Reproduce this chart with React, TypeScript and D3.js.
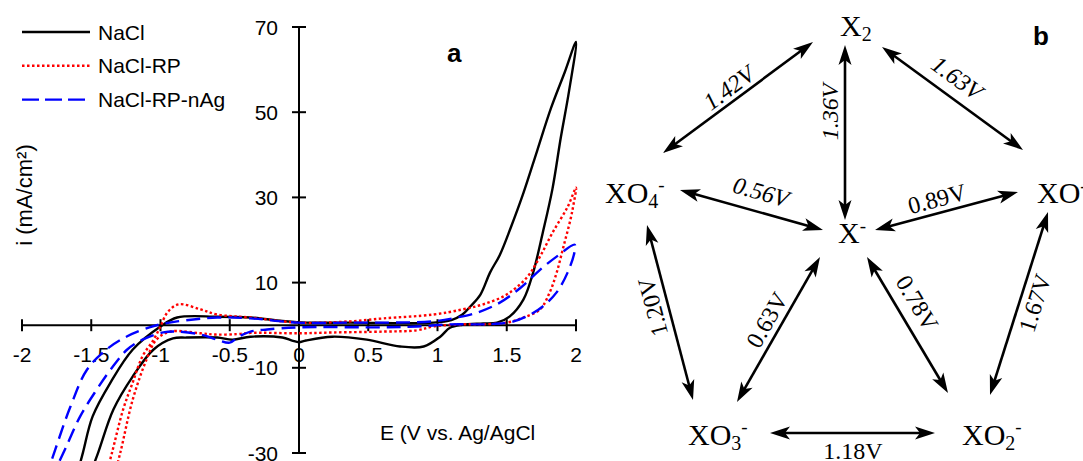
import React from "react";
import * as d3 from "d3";

const W = 1083;
const H = 461;

// cyclic voltammograms, [E (V vs Ag/AgCl), i (mA/cm2)], forward branch then reverse branch
const nacl = [
  [-1.61, -36], [-1.56, -29.9], [-1.49, -21.4], [-1.36, -13.4], [-1.2, -5.7], [-1.0, -0.3],
  [-0.88, 1.8], [-0.59, 2.0], [-0.35, 1.8], [-0.12, 1.0], [0.05, 0.6], [0.37, 0.6], [0.97, 0.6],
  [1.1, 1.2], [1.18, 2.5], [1.24, 4.5], [1.31, 7.2], [1.38, 12.4], [1.45, 16.5], [1.53, 23],
  [1.62, 31], [1.72, 41], [1.82, 51], [1.92, 59.5], [2.0, 66.5],
  [1.95, 55], [1.89, 44], [1.83, 32], [1.76, 21.7], [1.69, 12.3], [1.62, 6.0], [1.52, 2.0],
  [1.43, 0.6], [1.33, 0.4], [1.18, 0.1], [1.09, -0.6], [1.02, -2.7], [0.9, -5.0], [0.73, -5.0],
  [0.49, -3.4], [0.24, -2.7], [0.05, -3.6], [0.0, -4.0], [-0.05, -3.6], [-0.12, -2.9],
  [-0.35, -2.7], [-0.48, -3.4], [-0.59, -2.9], [-0.81, -2.9], [-0.91, -3.1], [-1.05, -5.7],
  [-1.2, -12.0], [-1.34, -19.8], [-1.45, -29.9], [-1.52, -36],
];

const naclRP = [
  [-1.4, -36], [-1.35, -29.9], [-1.27, -19.8], [-1.2, -13.4], [-1.13, -7.3], [-1.05, -3.4],
  [-1.0, -0.3], [-0.95, 3.0], [-0.87, 4.9], [-0.71, 3.7], [-0.59, 2.5], [-0.35, 1.8], [0.0, 0.6],
  [0.37, 0.9], [0.61, 1.6], [0.97, 2.5], [1.18, 3.7], [1.33, 4.9], [1.5, 7.2], [1.65, 11.4],
  [1.74, 16.1], [1.83, 21.7], [1.94, 27.8], [2.0, 32.3],
  [1.98, 28], [1.96, 24.8], [1.91, 18.5], [1.86, 12.3], [1.81, 7.7], [1.74, 3.7], [1.62, 1.8],
  [1.5, 0.6], [1.31, 0.2], [1.18, 0.2], [0.97, -0.3], [0.85, -1.2], [0.61, -1.5], [0.25, -1.7],
  [0.0, -1.9], [-0.35, -1.8], [-0.45, -2.1], [-0.6, -2.2], [-0.71, -1.9], [-0.93, -1.5],
  [-1.03, -3.4], [-1.1, -8.0], [-1.2, -17.4], [-1.29, -29.9], [-1.34, -36],
];

const naclRPnAg = [
  [-1.83, -36], [-1.76, -29.2], [-1.65, -19.1], [-1.53, -10.4], [-1.39, -5.7], [-1.24, -2.6],
  [-1.08, -0.5], [-1.0, 0.2], [-0.88, 0.9], [-0.59, 1.8], [-0.35, 1.6], [-0.01, 0.6], [0.37, 0.6],
  [0.97, 0.9], [1.14, 1.8], [1.29, 3.0], [1.45, 5.3], [1.6, 8.8], [1.74, 13.0], [1.86, 16.1],
  [1.99, 18.9],
  [1.99, 17.3], [1.94, 12.4], [1.86, 7.7], [1.76, 4.4], [1.67, 2.5], [1.55, 0.9], [1.45, 0.4],
  [1.33, 0.2], [1.09, 0.2], [0.85, -0.3], [0.61, -0.5], [0.0, -0.5], [-0.23, -1.0], [-0.35, -1.5],
  [-0.43, -2.6], [-0.5, -4.1], [-0.59, -3.4], [-0.71, -2.2], [-0.88, -1.5], [-0.98, -1.7],
  [-1.13, -3.4], [-1.24, -5.7], [-1.36, -10.4], [-1.46, -15.1], [-1.58, -21.4], [-1.69, -29.2],
  [-1.79, -36],
];

const seriesNames = ["NaCl", "NaCl-RP", "NaCl-RP-nAg"];
const seriesData = [nacl, naclRP, naclRPnAg];
const xTicks = [-2, -1.5, -1, -0.5, 0, 0.5, 1, 1.5, 2];
const yTicks = [70, 50, 30, 10, -10, -30];

// scheme b: species and redox couples
const species = [
  { id: "X2", base: "X", sub: "2", sup: "" },
  { id: "XO4", base: "XO", sub: "4", sup: "-" },
  { id: "XO", base: "XO", sub: "", sup: "-" },
  { id: "X", base: "X", sub: "", sup: "-" },
  { id: "XO3", base: "XO", sub: "3", sup: "-" },
  { id: "XO2", base: "XO", sub: "2", sup: "-" },
];
const couples = [
  { a: "X2", b: "XO4", v: "1.42V" },
  { a: "X2", b: "X", v: "1.36V" },
  { a: "X2", b: "XO", v: "1.63V" },
  { a: "XO4", b: "X", v: "0.56V" },
  { a: "X", b: "XO", v: "0.89V" },
  { a: "XO4", b: "XO3", v: "1.20V" },
  { a: "X", b: "XO3", v: "0.63V" },
  { a: "X", b: "XO2", v: "0.78V" },
  { a: "XO", b: "XO2", v: "1.67V" },
  { a: "XO3", b: "XO2", v: "1.18V" },
];

// layout of the scheme (text anchor = left x, baseline y)
const nodePos: Record<string, number[]> = {
  X2: [840, 36], XO4: [605, 203], XO: [1037, 203], X: [838, 243], XO3: [688, 445], XO2: [962, 445],
};
// arrow tips and label placement [cx, cy, angle], in couples order
const arrowTips = [
  [813, 42, 663, 153], [845, 45, 845, 220], [882, 47, 1023, 150], [680, 190, 823, 230],
  [875, 230, 1018, 192], [647, 225, 693, 400], [820, 257, 737, 402], [867, 257, 948, 393],
  [1048, 212, 990, 395], [770, 433, 935, 433],
];
const labelPos = [
  [729, 88, -36.5], [830, 112, -90], [957, 78, 36], [761, 192, 15.6], [937, 199, -14.9],
  [653, 307, -104.7], [767, 320, -60.2], [917, 303, 59.2], [1035, 303, -72.4], [853, 451, 0],
];
const italicLabels = ["1.42V", "1.36V", "1.63V", "0.56V"];

const sans = "'Liberation Sans', Arial, sans-serif";
const serif = "'Liberation Serif', 'Times New Roman', serif";
const styles = [
  { stroke: "#000", dash: "none" },
  { stroke: "#ff0000", dash: "2.5 2.5" },
  { stroke: "#0000ff", dash: "14 7" },
];

function Arrow({ t }: { t: number[] }) {
  const [x1, y1, x2, y2] = t;
  const a = Math.atan2(y2 - y1, x2 - x1);
  const deg = (a * 180) / Math.PI;
  const ux = Math.cos(a), uy = Math.sin(a);
  const inset = 14;
  const head = "M0,0 L-20,-6.5 L-15,0 L-20,6.5 Z";
  return (
    <g>
      <line x1={x1 + ux * inset} y1={y1 + uy * inset} x2={x2 - ux * inset} y2={y2 - uy * inset}
        stroke="#000" strokeWidth={2.6} />
      <path d={head} transform={`translate(${x2},${y2}) rotate(${deg})`} fill="#000" />
      <path d={head} transform={`translate(${x1},${y1}) rotate(${deg + 180})`} fill="#000" />
    </g>
  );
}

export default function App() {
  const x = d3.scaleLinear().domain([-2, 2]).range([22, 576]);
  const y = d3.scaleLinear().domain([-30, 70]).range([453, 27]);
  const line = d3.line<number[]>()
    .x((d) => x(d[0]))
    .y((d) => y(d[1]))
    .curve(d3.curveCatmullRom.alpha(0.5));
  const x0 = x(0);
  const y0 = y(0);

  return (
    <svg width={W} height={H} style={{ position: "absolute", left: 0, top: 0, background: "#fff" }}>
      {/* axes */}
      <g stroke="#000" strokeWidth={2}>
        <line x1={x(-2)} x2={x(2)} y1={y0} y2={y0} />
        <line x1={x0} x2={x0} y1={y(70)} y2={y(-30)} />
        {xTicks.map((t) => (
          <line key={"xt" + t} x1={x(t)} x2={x(t)} y1={y0 - 6} y2={y0 + 6} />
        ))}
        {yTicks.map((t) => (
          <line key={"yt" + t} x1={x0 - 7} x2={x0 + 7} y1={y(t)} y2={y(t)} />
        ))}
      </g>
      <g fontFamily={sans} fontSize={21} fill="#000">
        {xTicks.map((t) => (
          <text key={"xl" + t} x={x(t)} y={362} textAnchor="middle">{String(t)}</text>
        ))}
        {yTicks.map((t) => (
          <text key={"yl" + t} x={278} y={y(t) + 7.5} textAnchor="end">{String(t)}</text>
        ))}
        <text x={380} y={440}>E (V vs. Ag/AgCl</text>
        <text transform="translate(32,195) rotate(-90)" textAnchor="middle" fontSize={22}>i (mA/cm²)</text>
        <text x={447} y={62} fontWeight="bold" fontSize={26}>a</text>
        <text x={1033} y={45} fontWeight="bold" fontSize={26}>b</text>
      </g>

      {/* curves */}
      {seriesData.map((s, i) => (
        <path key={seriesNames[i]} d={line(s) || ""} fill="none" stroke={styles[i].stroke}
          strokeWidth={2.4} strokeDasharray={styles[i].dash} />
      ))}

      {/* legend */}
      {seriesNames.map((n, i) => (
        <g key={"lg" + n}>
          <line x1={22} x2={90} y1={32 + i * 33.8} y2={32 + i * 33.8} stroke={styles[i].stroke}
            strokeWidth={2.4} strokeDasharray={i === 2 ? "17 6" : styles[i].dash} />
          <text x={98} y={39.5 + i * 33.8} fontFamily={sans} fontSize={21}>{n}</text>
        </g>
      ))}

      {/* scheme b */}
      {couples.map((c, i) => (
        <Arrow key={"ar" + i} t={arrowTips[i]} />
      ))}
      {couples.map((c, i) => {
        const [cx, cy, ang] = labelPos[i];
        return (
          <text key={"lb" + i} transform={`translate(${cx},${cy}) rotate(${ang})`}
            textAnchor="middle" dominantBaseline="central" fontFamily={serif} fontSize={24}
            fontStyle={italicLabels.includes(c.v) ? "italic" : "normal"}>{c.v}</text>
        );
      })}
      {species.map((s) => {
        const [px, py] = nodePos[s.id];
        return (
          <text key={s.id} x={px} y={py} fontFamily={serif} fontSize={30}>
            {s.base}
            {s.sub && <tspan fontSize={20} dy={5}>{s.sub}</tspan>}
            {s.sup && <tspan fontSize={19} dy={s.sub ? -17 : -11}>{s.sup}</tspan>}
          </text>
        );
      })}
    </svg>
  );
}
